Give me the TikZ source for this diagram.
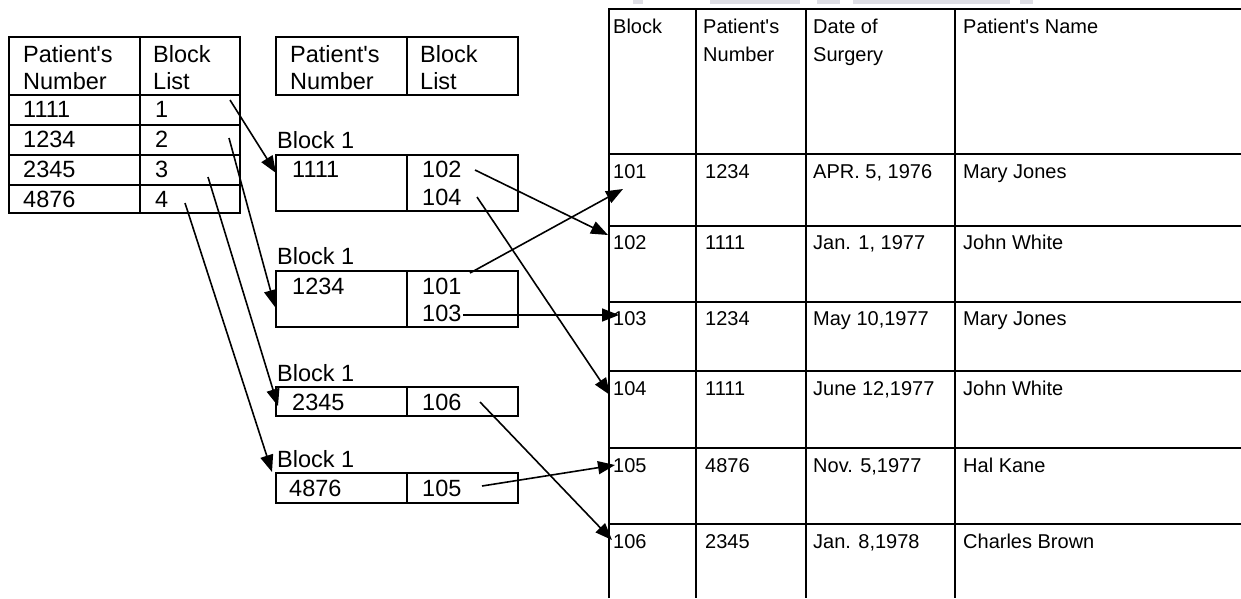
\documentclass[tikz,border=0pt]{standalone}
\usepackage{fontspec}
\setmainfont{Liberation Sans}
\usetikzlibrary{arrows.meta}
\definecolor{smudge}{RGB}{222,222,228}
\newcommand{\aq}{\textquotesingle}
\begin{document}
\begin{tikzpicture}[x=1pt,y=-1pt,
  grid/.style={line width=1.5pt,draw=black},
  tl/.style={anchor=base west,inner sep=0pt,font=\fontsize{23.5}{28}\selectfont},
  tr/.style={anchor=base west,inner sep=0pt,font=\fontsize{20}{28}\selectfont},
  ptr/.style={line width=1.6pt,-{Triangle[length=17pt,width=13pt]}}]
\useasboundingbox (0,0) rectangle (1241,598);
% faint remnants at top edge
\foreach \a/\b in {633/643,710/800,817/840,853/1010,1020/1033}
  \fill[smudge] (\a,0) rectangle (\b,4);

% ---- left index table ----
\draw[grid] (9,37) rectangle (240,213);
\draw[grid] (140,37) -- (140,213);
\foreach \y in {95,125,155,185} \draw[grid] (9,\y) -- (240,\y);
\node[tl] (lh1) at (23,62) {Patient\aq s};
\node[tl] (lh2) at (23,89) {Number};
\node[tl] (lh3) at (153,62) {Block};
\node[tl] (lh4) at (153,89) {List};
\node[tl] (lp1) at (23,117) {1111}; \node[tl] (lb1) at (155,117) {1};
\node[tl] (lp2) at (23,147) {1234}; \node[tl] (lb2) at (155,147) {2};
\node[tl] (lp3) at (23,177) {2345}; \node[tl] (lb3) at (155,177) {3};
\node[tl] (lp4) at (23,207) {4876}; \node[tl] (lb4) at (155,207) {4};

% ---- middle header ----
\draw[grid] (276,37) rectangle (518,95);
\draw[grid] (407,37) -- (407,95);
\node[tl] (mh1) at (290,62) {Patient\aq s};
\node[tl] (mh2) at (290,89) {Number};
\node[tl] (mh3) at (420,62) {Block};
\node[tl] (mh4) at (420,89) {List};

% ---- blocks ----
\node[tl] (bl1) at (277,148) {Block 1};
\draw[grid] (276,155) rectangle (518,211); \draw[grid] (407,155) -- (407,211);
\node[tl] (b1p) at (292,177) {1111};
\node[tl] (b1a) at (422,177) {102};
\node[tl] (b1b) at (422,205) {104};

\node[tl] (bl2) at (277,264) {Block 1};
\draw[grid] (276,271) rectangle (518,327); \draw[grid] (407,271) -- (407,327);
\node[tl] (b2p) at (292,294) {1234};
\node[tl] (b2a) at (422,294) {101};
\node[tl] (b2b) at (422,321) {103};

\node[tl] (bl3) at (277,381) {Block 1};
\draw[grid] (276,387) rectangle (518,416); \draw[grid] (407,387) -- (407,416);
\node[tl] (b3p) at (292,410) {2345};
\node[tl] (b3a) at (422,410) {106};

\node[tl] (bl4) at (277,467) {Block 1};
\draw[grid] (276,473) rectangle (518,503); \draw[grid] (407,473) -- (407,503);
\node[tl] (b4p) at (289,496) {4876};
\node[tl] (b4a) at (422,496) {105};

% ---- right table ----
\draw[grid] (609,598) -- (609,9) -- (1241,9);
\foreach \x in {696,806,955} \draw[grid] (\x,9) -- (\x,598);
\foreach \y in {154,226,302,371,448,524} \draw[grid] (609,\y) -- (1241,\y);
\node[tr] (rh1) at (613,33) {Block};
\node[tr] (rh2) at (703,33) {Patient\aq s};
\node[tr] (rh3) at (703,61) {Number};
\node[tr] (rh4) at (813,33) {Date of};
\node[tr] (rh5) at (813,61) {Surgery};
\node[tr] (rh6) at (963,33) {Patient\aq s Name};
\foreach \n/\y/\a/\b/\c/\d in {
  1/178/101/1234/{APR. 5, 1976}/{Mary Jones},
  2/249/102/1111/{Jan. 1, 1977}/{John White},
  3/325/103/1234/{May 10,1977}/{Mary Jones},
  4/395/104/1111/{June 12,1977}/{John White},
  5/472/105/4876/{Nov. 5,1977}/{Hal Kane},
  6/548/106/2345/{Jan. 8,1978}/{Charles Brown}}{
  \node[tr] (r\n a) at (613,\y) {\a};
  \node[tr] (r\n b) at (705,\y) {\b};
  \node[tr] (r\n c) at (813,\y) {\c};
  \node[tr] (r\n d) at (963,\y) {\d};
}

% ---- connector end points ----
\coordinate (s1) at (230,100); \coordinate (e1) at (276,173);
\coordinate (s2) at (229,138); \coordinate (e2) at (275,307);
\coordinate (s3) at (208,177); \coordinate (e3) at (278,406);
\coordinate (s4) at (185,203); \coordinate (e4) at (272,472);
\coordinate (s102) at (475,170); \coordinate (e102) at (608,235);
\coordinate (s104) at (477,197); \coordinate (e104) at (610,395);
\coordinate (s101) at (470,273); \coordinate (e101) at (623,189);
\coordinate (s103) at (463,315); \coordinate (e103) at (619,315);
\coordinate (s106) at (480,402); \coordinate (e106) at (612,540);
\coordinate (s105) at (482,486); \coordinate (e105) at (615,465);

\draw[ptr] (s1) -- (e1);
\draw[ptr] (s2) -- (e2);
\draw[ptr] (s3) -- (e3);
\draw[ptr] (s4) -- (e4);
\draw[ptr] (s102) -- (e102);
\draw[ptr] (s104) -- (e104);
\draw[ptr] (s101) -- (e101);
\draw[ptr] (s103) -- (e103);
\draw[ptr] (s106) -- (e106);
\draw[ptr] (s105) -- (e105);
\end{tikzpicture}
\end{document}
